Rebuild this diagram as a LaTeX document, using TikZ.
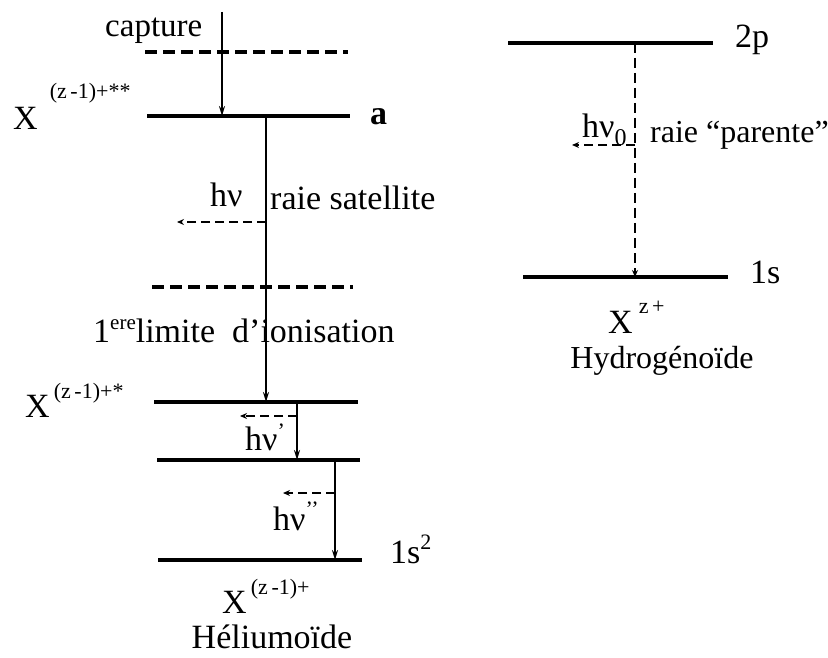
\documentclass[tikz,border=0pt]{standalone}
\usepackage{fontspec}
\setmainfont{Liberation Serif}
\usetikzlibrary{arrows.meta}
\newcommand\upx[2]{\raisebox{#1}{\fontsize{22}{22}\selectfont #2}}
\begin{document}
\begin{tikzpicture}[x=1pt,y=-1pt,
  level/.style={line width=3.4pt},
  dashlvl/.style={line width=3.2pt, dash pattern=on 12pt off 6pt},
  trans/.style={line width=1.9pt,-{Stealth[length=10pt,width=6pt]}},
  emis/.style={line width=2.6pt, dash pattern=on 9pt off 5pt,-{Stealth[length=7pt,width=6pt]}},
  dtrans/.style={line width=2.4pt, dash pattern=on 10pt off 5pt,-{Stealth[length=7pt,width=6pt]}},
  lbl/.style={inner sep=0pt, font=\fontsize{34}{40}\selectfont},
]
\useasboundingbox[fill=white] (0,0) rectangle (828,658);

% ---------- left: heliumoid ----------
\coordinate (capTop) at (222,12);
\coordinate (d1L) at (145,52);   \coordinate (d1R) at (348,52);
\coordinate (aL) at (147,116);   \coordinate (aR) at (350,116);
\coordinate (aS) at (266,116);   \coordinate (aC) at (222,116);
\coordinate (d2L) at (152,287);  \coordinate (d2R) at (353,287);
\coordinate (l1L) at (154,402);  \coordinate (l1R) at (358,402);
\coordinate (l1A) at (266,402);  \coordinate (l1B) at (297,402);
\coordinate (l2L) at (157,460);  \coordinate (l2R) at (360,460);
\coordinate (l2A) at (297,460);  \coordinate (l2B) at (335,460);
\coordinate (l3L) at (158,560);  \coordinate (l3R) at (362,560);
\coordinate (l3A) at (335,560);
\coordinate (e1S) at (266,222);  \coordinate (e1E) at (177,222);
\coordinate (e2S) at (297,416);  \coordinate (e2E) at (240,416);
\coordinate (e3S) at (335,493);  \coordinate (e3E) at (283,493);

\draw[dashlvl] (d1L) -- (d1R);
\draw[dashlvl] (d2L) -- (d2R);
\draw[level] (aL) -- (aR);
\draw[level] (l1L) -- (l1R);
\draw[level] (l2L) -- (l2R);
\draw[level] (l3L) -- (l3R);

\draw[trans] (capTop) -- (aC);
\draw[trans] (aS) -- (l1A);
\draw[trans] (l1B) -- (l2A);
\draw[trans] (l2B) -- (l3A);
\draw[emis] (e1S) -- (e1E);
\draw[emis] (e2S) -- (e2E);
\draw[emis] (e3S) -- (e3E);

\node[lbl, anchor=base west, font=\fontsize{33}{38}\selectfont] (capture) at (105,37) {capture};
\node[lbl, anchor=base west] (Xa) at (13,130) {X\hspace{12pt}\upx{31pt}{(z\,-1)+**}};
\node[lbl, anchor=base west] (la) at (370,125) {\bfseries a};
\node[lbl, anchor=base west] (hv1) at (210,207) {hν};
\node[lbl, anchor=base west] (sat) at (270,210) {raie satellite};
\node[lbl, anchor=base west] (lim) at (93,342) {1\raisebox{13pt}{\fontsize{21}{21}\selectfont ere}limite \ d’ionisation};
\node[lbl, anchor=base west] (Xb) at (25,417) {X\hspace{4pt}\upx{19pt}{(z\,-1)+*}};
\node[lbl, anchor=base west] (hv2) at (245,450) {hν\raisebox{12pt}{\fontsize{22}{22}\selectfont ’}};
\node[lbl, anchor=base west] (hv3) at (273,530) {hν\raisebox{14pt}{\fontsize{22}{22}\selectfont ’’}};
\node[lbl, anchor=base west] (s2) at (390,563) {1s\raisebox{14pt}{\fontsize{22}{22}\selectfont 2}};
\node[lbl, anchor=base west] (Xc) at (222,613) {X\hspace{4pt}\upx{19pt}{(z\,-1)+}};
\node[lbl, anchor=base] (helium) at (272,648) {Héliumoïde};

% ---------- right: hydrogenoid ----------
\coordinate (pL) at (508,43);  \coordinate (pR) at (713,43);
\coordinate (pA) at (635,43);
\coordinate (sL) at (523,277); \coordinate (sR) at (728,277);
\coordinate (sA) at (635,277);
\coordinate (e0S) at (635,145); \coordinate (e0E) at (572,145);

\draw[level] (pL) -- (pR);
\draw[level] (sL) -- (sR);
\draw[dtrans] (pA) -- (sA);
\draw[emis] (e0S) -- (e0E);

\node[lbl, anchor=base west] (p2) at (735,48) {2p};
\node[lbl, anchor=base west] (hv0) at (582,138) {hν\textsubscript{\fontsize{24}{24}\selectfont 0}};
\node[lbl, anchor=base west, font=\fontsize{32}{38}\selectfont] (par) at (650,143) {raie “parente”};
\node[lbl, anchor=base west] (s1) at (750,283) {1s};
\node[lbl, anchor=base west] (Xd) at (608,333) {X\hspace{6pt}\upx{20pt}{z\,+}};
\node[lbl, anchor=base, font=\fontsize{32}{38}\selectfont] (hydro) at (662,368) {Hydrogénoïde};
\end{tikzpicture}
\end{document}
